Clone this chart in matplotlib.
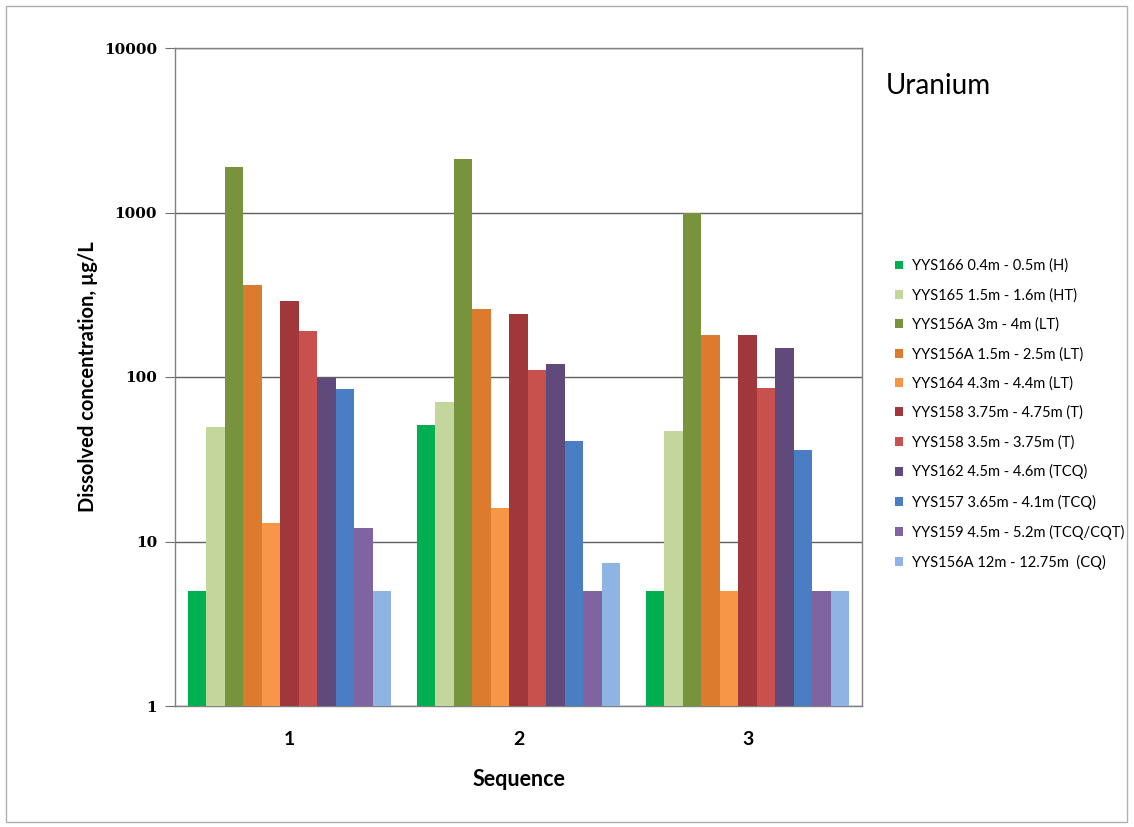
import matplotlib
matplotlib.use("Agg")
import matplotlib.pyplot as plt
import numpy as np
from matplotlib.patches import Rectangle

sequences = ["1", "2", "3"]
series_labels = [
    "YYS166 0.4m - 0.5m (H)",
    "YYS165 1.5m - 1.6m (HT)",
    "YYS156A 3m - 4m (LT)",
    "YYS156A 1.5m - 2.5m (LT)",
    "YYS164 4.3m - 4.4m (LT)",
    "YYS158 3.75m - 4.75m (T)",
    "YYS158 3.5m - 3.75m (T)",
    "YYS162 4.5m - 4.6m (TCQ)",
    "YYS157 3.65m - 4.1m (TCQ)",
    "YYS159 4.5m - 5.2m (TCQ/CQT)",
    "YYS156A 12m - 12.75m  (CQ)",
]
yys166_h = [5, 51, 5]
yys165_ht = [50, 70, 47]
yys156a_lt_3_4 = [1900, 2100, 1000]
yys156a_lt_15_25 = [360, 260, 180]
yys164_lt = [13, 16, 5]
yys158_t_375_475 = [290, 240, 180]
yys158_t_35_375 = [190, 110, 86]
yys162_tcq = [98, 120, 150]
yys157_tcq = [85, 41, 36]
yys159_tcq_cqt = [12, 5, 5]
yys156a_cq = [5, 7.4, 5]
series_values = [yys166_h, yys165_ht, yys156a_lt_3_4, yys156a_lt_15_25, yys164_lt,
                 yys158_t_375_475, yys158_t_35_375, yys162_tcq, yys157_tcq,
                 yys159_tcq_cqt, yys156a_cq]
colors = ["#00B050", "#C3D69B", "#77933C", "#DC7A2E", "#F79646", "#A0373B",
          "#C8504D", "#604A7B", "#4A7EC4", "#8064A2", "#8EB4E3"]

fig = plt.figure(figsize=(11.34, 8.27), dpi=100)
fig.patches.append(Rectangle((6/1134, 5/827), 1121/1134, 816/827, transform=fig.transFigure,
                             fill=False, edgecolor="#B0B0B0", linewidth=1))
ax = fig.add_axes([175/1134, 1-706/827, 687/1134, 658/827])

n = len(series_values)
group_w = 0.886
bw = group_w / n
x = np.arange(len(sequences))
for i, (vals, lab, c) in enumerate(zip(series_values, series_labels, colors)):
    offs = -group_w/2 + bw*(i + 0.5)
    ax.bar(x + offs, vals, width=bw, color=c, label=lab, zorder=3, linewidth=0)

ax.set_yscale("log")
ax.set_ylim(1, 10000)
ax.set_xlim(-0.5, len(sequences) - 0.5)
ax.set_yticks([1, 10, 100, 1000, 10000])
ax.set_yticklabels(["1", "10", "100", "1000", "10000"], fontfamily="DejaVu Serif",
                   fontweight="bold", fontsize=11)
ax.yaxis.set_minor_locator(matplotlib.ticker.NullLocator())
ax.set_xticks(x)
ax.set_xticklabels(sequences, fontfamily="Lato", fontweight="bold", fontsize=14)
ax.tick_params(axis="y", direction="out", length=7, color="#707070", pad=6)
ax.tick_params(axis="x", length=0, pad=18)
ax.grid(axis="y", color="#606060", linewidth=1, zorder=0)
for s in ax.spines.values():
    s.set_color("#808080")
    s.set_linewidth(1)

xl = ax.set_xlabel("Sequence", fontfamily="Lato", fontweight="bold", fontsize=15.5)
xl.set_va("center")
ax.xaxis.set_label_coords(0.5, (706 - 779) / 658)
yl = ax.set_ylabel("Dissolved concentration, µg/L", fontfamily="Lato", fontweight="bold",
                   fontsize=14.5)
yl.set_va("center")
ax.yaxis.set_label_coords((88 - 175) / 687, 0.5)

fig.text(886/1134, 1-86/827, "Uranium", fontfamily="Lato", fontsize=20, va="center", ha="left")

leg = fig.legend(loc="upper left", bbox_to_anchor=(889/1134, 1-253/827), frameon=False,
                 prop={"family": "Lato", "size": 10.5}, handlelength=0.55, handleheight=0.55,
                 handletextpad=0.6, labelspacing=1.03, borderaxespad=0)

fig.savefig("out.png", dpi=100)
